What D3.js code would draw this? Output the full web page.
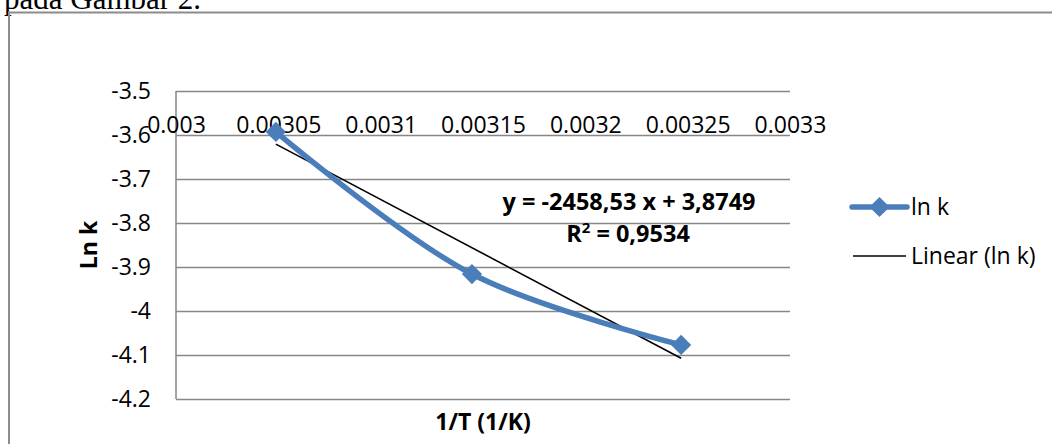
<!DOCTYPE html>
<html>
<head>
<meta charset="utf-8">
<script src="https://cdn.jsdelivr.net/npm/d3@7"></script>
<style>
  body { margin: 0; background: #fff; }
  svg { display: block; }
  .tick text { font-family: "Open Sans", sans-serif; font-size: 23px; fill: #000; }
</style>
</head>
<body>
<svg id="chart" width="1052" height="444"></svg>
<script>
var invT = [0.0030488, 0.0031446, 0.0032468];
var lnK = [-3.593, -3.916, -4.077];
var slope = -2458.53, intercept = 3.8749;
var xTicks = [0.003, 0.00305, 0.0031, 0.00315, 0.0032, 0.00325, 0.0033];
var xTickLabels = ["0.003", "0.00305", "0.0031", "0.00315", "0.0032", "0.00325", "0.0033"];
var yTicks = [-3.5, -3.6, -3.7, -3.8, -3.9, -4, -4.1, -4.2];
var yTickLabels = ["-3.5", "-3.6", "-3.7", "-3.8", "-3.9", "-4", "-4.1", "-4.2"];

var svg = d3.select("svg#chart");
var blue = "#4a7ebb", grid = "#878787";

// document text above the chart box, cut off at the top
svg.append("text")
    .attr("x", 4).attr("y", 9)
    .style("font-family", "'Liberation Serif', serif")
    .style("font-size", "31px")
    .text("pada Gambar 2.");

// chart box
svg.append("path")
    .attr("d", "M9,444V12.5H1052")
    .attr("fill", "none")
    .attr("stroke", "#8c8c8c")
    .attr("stroke-width", 2);

var x = d3.scaleLinear().domain([0.003, 0.0033]).range([176, 790]);
var y = d3.scaleLinear().domain([-4.2, -3.5]).range([399, 91]);

var yAxis = svg.append("g")
    .attr("transform", "translate(176,0)")
    .call(d3.axisLeft(y)
        .tickValues(yTicks)
        .tickSize(-614)
        .tickPadding(25)
        .tickFormat(function(d, i) { return yTickLabels[i]; }));
yAxis.select(".domain").remove();
yAxis.selectAll(".tick line").attr("stroke", grid).attr("stroke-width", 1.5);
yAxis.selectAll(".tick text").attr("dy", "0.34em");

svg.append("line")
    .attr("x1", 176).attr("x2", 176)
    .attr("y1", y(-3.5)).attr("y2", y(-4.2))
    .attr("stroke", grid).attr("stroke-width", 1.5);

var xAxis = svg.append("g")
    .attr("transform", "translate(0," + y(-3.5) + ")")
    .call(d3.axisBottom(x)
        .tickValues(xTicks)
        .tickSize(0)
        .tickPadding(0)
        .tickFormat(function(d, i) { return xTickLabels[i]; }));
xAxis.select(".domain").remove();
xAxis.selectAll(".tick text").attr("dy", null).attr("y", 42);

// trend line
svg.append("line")
    .attr("x1", x(invT[0])).attr("y1", y(slope * invT[0] + intercept))
    .attr("x2", x(invT[2])).attr("y2", y(slope * invT[2] + intercept))
    .attr("stroke", "#000").attr("stroke-width", 1.6);

var pts = invT.map(function(v, i) { return [v, lnK[i]]; });

svg.append("path")
    .datum(pts)
    .attr("fill", "none")
    .attr("stroke", blue)
    .attr("stroke-width", 5.5)
    .attr("stroke-linecap", "round")
    .attr("d", d3.line()
        .x(function(d) { return x(d[0]); })
        .y(function(d) { return y(d[1]); })
        .curve(d3.curveCatmullRom.alpha(0.5)));

var diamond = d3.symbol().type(d3.symbolDiamond2).size(260);
svg.append("g").selectAll("path")
    .data(pts)
    .enter().append("path")
    .attr("d", diamond)
    .attr("fill", blue)
    .attr("transform", function(d) {
        return "translate(" + x(d[0]) + "," + y(d[1]) + ")";
    });

// equation
var eq = svg.append("text")
    .attr("text-anchor", "middle")
    .style("font-family", "'Open Sans', sans-serif")
    .style("font-size", "23.5px")
    .style("font-weight", "bold");
eq.append("tspan").attr("x", 629).attr("y", 210).text("y = -2458,53 x + 3,8749");
eq.append("tspan").attr("x", 628).attr("y", 242).text("R");
eq.append("tspan").attr("dy", -9).style("font-size", "15px").text("2");
eq.append("tspan").attr("dy", 9).text(" = 0,9534");

// axis titles
svg.append("text")
    .attr("x", 483).attr("y", 430)
    .attr("text-anchor", "middle")
    .style("font-family", "'Open Sans', sans-serif")
    .style("font-size", "23px")
    .style("font-weight", "bold")
    .text("1/T (1/K)");

svg.append("text")
    .attr("transform", "translate(97,245) rotate(-90)")
    .attr("text-anchor", "middle")
    .style("font-family", "'Open Sans', sans-serif")
    .style("font-size", "23px")
    .style("font-weight", "bold")
    .text("Ln k");

// legend
var legend = svg.append("g").attr("transform", "translate(852,0)");
legend.append("line")
    .attr("x1", 0).attr("x2", 55).attr("y1", 207).attr("y2", 207)
    .attr("stroke", blue).attr("stroke-width", 5.5).attr("stroke-linecap", "round");
legend.append("path")
    .attr("d", diamond)
    .attr("fill", blue)
    .attr("transform", "translate(27.5,207)");
legend.append("line")
    .attr("x1", 1).attr("x2", 54).attr("y1", 256).attr("y2", 256)
    .attr("stroke", "#000").attr("stroke-width", 1.6);
legend.selectAll("text.lg")
    .data(["ln k", "Linear (ln k)"])
    .enter().append("text")
    .attr("class", "lg")
    .attr("x", 59)
    .attr("y", function(d, i) { return i ? 256 : 207; })
    .attr("dy", "0.35em")
    .style("font-family", "'Open Sans', sans-serif")
    .style("font-size", "23px")
    .text(function(d) { return d; });
</script>
</body>
</html>
